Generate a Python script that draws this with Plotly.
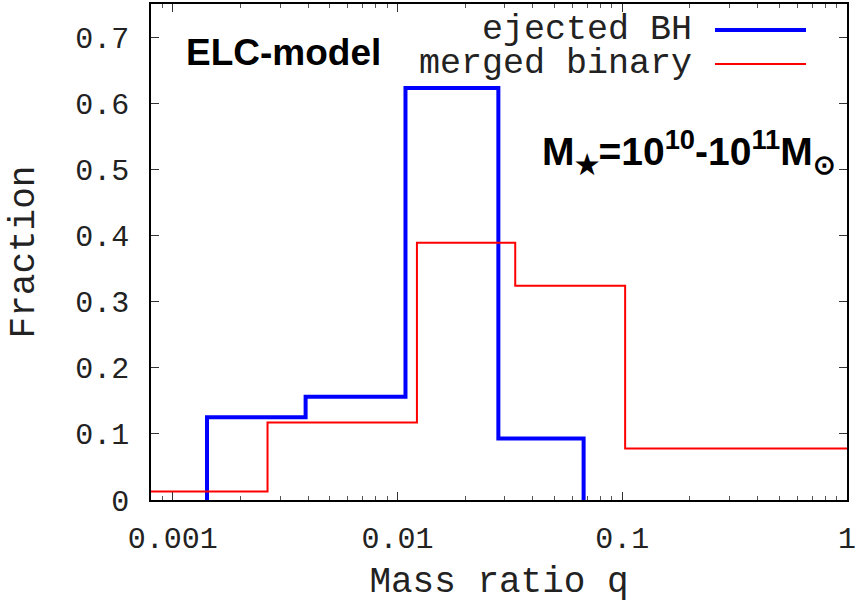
import plotly.graph_objects as go

# ---- data ----
ejected_edges = [0.00142, 0.0039, 0.01085, 0.0281, 0.0673]
ejected_frac = [0.125, 0.156, 0.623, 0.093]

merged_edges = [0.0008, 0.00264, 0.0122, 0.0334, 0.103, 1.0]
merged_frac = [0.013, 0.117, 0.389, 0.324, 0.078]

x_tickvals = [0.001, 0.01, 0.1, 1]
x_ticktext = ["0.001", "0.01", "0.1", "1"]
y_tickvals = [0, 0.1, 0.2, 0.3, 0.4, 0.5, 0.6, 0.7]
y_ticktext = ["0", "0.1", "0.2", "0.3", "0.4", "0.5", "0.6", "0.7"]

series_names = ["ejected BH", "merged binary"]
colors = ["#0000ff", "#ff0000"]
widths = [4, 2]

# ---- build step outlines ----
ej_x = [ejected_edges[0]] + ejected_edges
ej_y = [0] + ejected_frac + [0]
mg_x = merged_edges
mg_y = merged_frac + [merged_frac[-1]]

W, H = 865, 603
L, R, T, B = 151, 18, 4, 103
pw, ph = W - L - R, H - T - B


def px(xp):
    return (xp - L) / pw


def py(yp):
    return (H - B - yp) / ph


mono = "Liberation Mono, Courier New, monospace"
sans = "Liberation Sans, Arial, Helvetica, sans-serif"

fig = go.Figure()
fig.add_trace(go.Scatter(x=ej_x, y=ej_y, mode="lines", line_shape="hv",
                         line=dict(color=colors[0], width=widths[0]),
                         name=series_names[0], showlegend=False))
fig.add_trace(go.Scatter(x=mg_x, y=mg_y, mode="lines", line_shape="hv",
                         line=dict(color=colors[1], width=widths[1]),
                         name=series_names[1], showlegend=False))

minor_vals = [m * 10 ** e for e in range(-4, 0) for m in range(2, 10)]

fig.update_layout(
    width=W, height=H,
    margin=dict(l=L, r=R, t=T, b=B, autoexpand=False),
    paper_bgcolor="white", plot_bgcolor="white",
    font=dict(family=mono, size=30, color="black"),
    xaxis=dict(type="log", range=[-3.0969, 0],
               tickmode="array", tickvals=x_tickvals, ticktext=x_ticktext,
               ticks="inside", ticklen=8, tickwidth=1, tickcolor="#333",
               minor=dict(tickmode="array", tickvals=minor_vals, ticks="inside",
                          ticklen=4, tickwidth=1, tickcolor="#555", showgrid=False),
               showline=True, linecolor="black", linewidth=1.5, mirror="allticks",
               showgrid=False, zeroline=False,
               tickfont=dict(family=mono, size=30, color="#222"),
               ticklabelstandoff=10,
               title=dict(text="Mass ratio q", font=dict(family=mono, size=36, color="#222"), standoff=20)),
    yaxis=dict(range=[0, 0.75],
               tickmode="array", tickvals=y_tickvals, ticktext=y_ticktext,
               ticks="inside", ticklen=8, tickwidth=1, tickcolor="#333",
               showline=True, linecolor="black", linewidth=1.5, mirror="allticks",
               showgrid=False, zeroline=False,
               tickfont=dict(family=mono, size=30, color="#222"),
               ticklabelstandoff=14,
               title=dict(text="Fraction", font=dict(family=mono, size=36, color="#222"), standoff=30)),
)

# manual gnuplot-style key (text right-aligned, sample line to the right)
key_rows = [30, 64]
for name, c, w, yr in zip(series_names, colors, widths, key_rows):
    fig.add_annotation(xref="paper", yref="paper", x=px(694), y=py(yr),
                       text=name, showarrow=False, xanchor="right", yanchor="middle",
                       font=dict(family=mono, size=35, color="#222"))
    fig.add_shape(type="line", xref="paper", yref="paper",
                  x0=px(715), x1=px(806), y0=py(yr), y1=py(yr),
                  line=dict(color=c, width=w))

fig.add_annotation(xref="paper", yref="paper", x=px(184), y=py(53),
                   text="<b>ELC-model</b>", showarrow=False,
                   xanchor="left", yanchor="middle",
                   font=dict(family=sans, size=37, color="black"))
fig.add_annotation(xref="paper", yref="paper", x=px(838), y=py(152),
                   text="<b>M<sub>★</sub>=10<sup>10</sup>-10<sup>11</sup>M<sub>⊙</sub></b>",
                   showarrow=False, xanchor="right", yanchor="middle",
                   font=dict(family=sans, size=39, color="black"))

fig.write_html("out.html")
